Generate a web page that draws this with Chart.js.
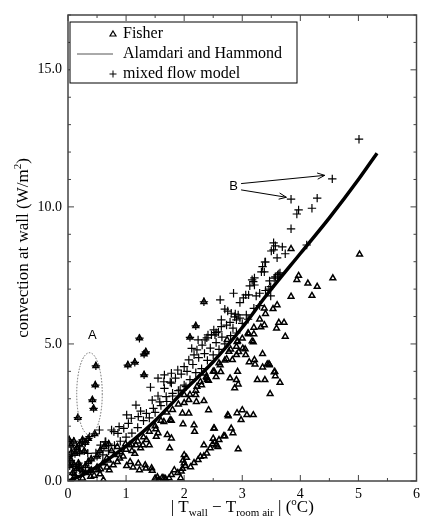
<!DOCTYPE html>
<html>
<head>
<meta charset="utf-8">
<script src="https://cdn.jsdelivr.net/npm/chart.js@4.4.0/dist/chart.umd.min.js"></script>
<style>body{margin:0;background:#fff}</style>
</head>
<body>
<canvas id="c" width="425" height="517"></canvas>
<script>
// axis ranges / ticks
const xMax = 6, yMax = 17;
const xTickLabels = [0, 1, 2, 3, 4, 5, 6];
const yTickLabels = [0, 5, 10, 15];

// Alamdari and Hammond correlation
const lineX = [0, 0.25, 0.5, 0.75, 1, 1.5, 2, 2.5, 3, 3.4, 4, 4.5, 5, 5.32];
const lineY = [0, 0.22, 0.52, 0.88, 1.28, 2.2, 3.3, 4.35, 5.6, 6.73, 8.3, 9.6, 11.0, 11.96];

// points where Fisher and mixed flow model coincide (drawn as both markers)
const shared = [
  [2.34,6.54],[2.20,5.66],[2.10,5.24],[1.23,5.21],[1.31,4.63],[1.34,4.71],[1.03,4.23],[1.15,4.33],
  [1.31,3.87],[0.48,4.20],[0.47,3.50],[0.42,2.96],[0.44,2.65],[0.17,2.31],[0.46,1.72],[0.02,1.50],
  [0.05,1.3],[0.1,1.45],[0.15,1.2],[0.2,1.35],[0.25,1.5],[0.3,1.4],[0.35,1.55],[0.12,1.0],[0.2,1.05],
  [0.28,1.1],[0.03,0.55],[0.05,0.75],[0.1,0.6],[0.15,0.45],[0.2,0.5],[0.25,0.35],[0.08,0.3],[0.12,0.2],
  [0.18,0.65],[0.3,0.55],[0.35,0.7],[0.4,0.8],[0.5,0.9],[0.55,1.1],[0.62,1.25],[0.7,1.35],[0.02,0.9],[0.06,1.05]
];

// Fisher measurements
const fisher = [
  [3.84,8.47],[5.02,8.27],[3.97,7.49],[3.94,7.34],[4.13,7.21],[4.29,7.09],[4.56,7.40],[3.84,6.73],[4.20,6.76],
  [3.60,6.42],[3.53,6.28],[3.63,5.78],[3.72,5.78],[3.59,5.57],[3.74,5.27],[3.46,4.27],[3.56,3.99],[3.57,3.83],
  [3.65,3.59],[3.48,3.18],[3.38,6.30],[3.32,5.61],[3.38,5.69],[3.11,5.36],[3.20,5.36],[3.17,5.1],[2.92,5.10],
  [2.91,5.08],[3.19,5.07],[2.77,4.72],[3.01,4.84],[2.94,4.71],[3.06,4.60],[2.73,4.45],[2.83,4.42],[2.90,4.60],
  [3.12,4.34],[3.35,4.64],[3.22,4.26],[3.43,4.26],[2.62,4.23],[2.52,3.99],[2.63,3.98],[2.55,3.80],[2.36,3.93],
  [2.39,3.76],[2.92,3.99],[2.79,3.75],[2.90,3.69],[2.93,3.53],[2.87,3.39],[3.26,3.69],[3.39,3.69],[3.35,4.15],
  [3.47,4.23],[3.55,3.97],[2.34,2.92],[2.42,2.59],[2.76,2.37],[2.91,2.48],[3.0,2.59],[3.08,2.41],[3.19,2.41],
  [2.98,2.23],[2.08,2.47],[1.98,2.08],[1.78,2.2],[2.52,1.92],[2.18,1.80],[2.81,1.92],[2.84,1.75],[2.70,1.64],
  [2.93,1.16],[2.34,1.31],[2.53,1.43],[2.49,1.35],[2.55,1.30],[2.45,1.20],[2.6,1.5],[2.5,1.55],[2.58,1.25],
  [2.39,1.01],[2.34,0.91],[2.28,0.89],[2.24,0.77],[2.17,0.66],[2.11,0.51],[2.0,0.65],[1.98,0.75],[2.02,0.55],
  [1.97,0.45],[2.04,0.85],[1.95,0.35],[2.0,0.95],[1.83,0.40],[1.89,0.3],[1.94,0.11],[1.78,0.22],[1.74,0.11],
  [1.68,0.08],[1.62,0.12],[1.56,0.05],[1.5,0.1],[1.75,1.2],[1.78,1.56],[2.20,3.14],[2.08,2.96],[2.28,3.62],
  [2.38,3.80],[2.42,3.66],[2.75,2.41],[2.68,1.64],[2.51,1.92],[3.21,4.42],[3.05,4.81],[2.74,5.15],
  [1.51,1.89],[1.65,2.16],[1.76,2.23],[1.71,1.68],[1.40,1.31],[1.29,1.31],[1.17,1.31],[1.06,1.31],[0.89,0.83],
  [0.78,0.58],[0.67,0.50],[0.56,0.43],[1.01,0.55],[1.12,0.50],[1.23,0.40],[1.34,0.46],[1.45,0.38],[1.54,0.14],
  [1.65,0.11],[0.39,0.16],[0.61,0.04],[0.67,0.83],[1.07,0.70],[1.21,0.64],[1.33,0.58],[1.44,0.47],[0.52,0.40],
  [0.71,0.4],[0.37,0.36],[1.52,1.62],[1.97,2.47],[2.17,2.04],[2.0,3.14],[2.21,2.89],[2.22,3.44],
  [0.5,0.5],[0.6,0.65],[0.7,0.75],[0.8,0.95],[0.9,1.05],[1.0,1.15],[1.1,1.1],[1.2,1.45],[1.3,1.6],[1.4,1.8],
  [1.5,2.0],[1.6,2.2],[1.7,2.5],[1.8,2.6],[1.9,2.8],[2.0,2.85],[2.1,3.15],[2.2,3.3],[2.3,3.5],[2.4,3.7],
  [2.5,4.0],[2.6,4.3],[2.7,4.4],[2.8,4.8],[2.9,4.9],[3.0,5.2],[3.1,5.4],[3.2,5.6],[3.3,5.9],[3.4,6.1],
  [0.3,0.3],[0.4,0.4],[0.25,0.1],[0.15,0.05],[0.45,0.2],[0.55,0.25],[0.85,0.7],[0.95,0.9],[1.15,1.0],
  [1.35,1.5],[1.55,1.75],[1.25,1.2],[0.99,1.35],[1.10,1.33],[0.85,1.25],[0.75,1.1]
];

// mixed flow model predictions
const mixed = [
  [5.01,12.47],[4.55,11.02],[3.84,10.28],[4.29,10.32],[4.20,9.95],[3.97,9.89],[3.94,9.74],[3.84,9.2],
  [3.57,8.58],[3.54,8.43],[3.69,8.54],[3.60,8.14],[3.74,8.29],[3.50,8.39],[3.63,7.55],[3.57,7.45],[3.47,7.3],
  [3.46,7.0],[3.49,6.75],[4.11,8.61],[3.35,7.82],[3.39,7.99],[3.33,7.63],[3.61,7.52],[3.65,7.59],[3.55,7.40],
  [3.49,7.09],[3.19,7.27],[3.21,7.15],[3.13,7.12],[3.30,6.85],[3.24,6.75],[2.85,6.85],[2.96,6.51],[3.02,6.68],
  [3.06,6.79],[3.11,6.79],[2.62,6.61],[2.70,6.27],[2.75,6.20],[2.81,6.12],[2.88,6.09],[2.64,5.88],[2.64,5.63],
  [2.79,5.79],[2.90,5.88],[2.96,5.94],[3.07,6.06],[2.51,5.51],[2.55,5.41],[2.47,5.33],[3.54,8.69],[3.40,7.99],
  [3.17,7.34],[3.21,7.41],[3.38,7.63],[2.87,5.99],[2.93,6.06],[2.73,5.69],[2.84,5.58],[2.59,5.44],[2.53,5.33],
  [2.39,5.22],[1.42,3.42],[1.65,3.62],[1.76,3.61],[1.55,3.75],[1.66,3.87],[1.78,3.93],[1.89,4.05],[2.0,4.17],
  [2.08,4.42],[2.17,4.60],[2.22,4.78],[2.31,4.96],[2.36,5.15],[2.41,5.33],[2.24,5.15],[2.13,4.84],
  [1.17,2.77],[1.01,2.41],[1.09,2.29],[0.75,1.86],[0.86,1.74],[0.64,1.43],[0.56,1.31],[0.79,1.80],[0.88,1.98],
  [0.96,1.92],[1.04,2.10],[1.21,2.35],[1.35,2.47],[1.47,2.65],[1.58,2.89],[1.69,3.08],[1.80,3.20],[1.93,3.32],
  [2.03,3.44],[1.78,3.57],[1.66,3.38],[0.54,1.86],[0.37,1.62],[0.29,1.43],[0.20,1.25],[0.34,1.01],[0.48,1.02],
  [0.65,1.43],[1.3,2.2],[1.5,2.5],[1.7,2.9],[1.9,3.3],[2.1,3.7],[2.3,4.1],[2.5,4.6],[2.7,5.0],[2.9,5.4],
  [3.1,5.9],[3.3,6.4],[1.2,1.95],[1.4,2.3],[1.6,2.75],[1.8,3.1],[2.0,3.5],[2.2,3.95],[2.4,4.4],[2.6,4.8],
  [2.8,5.3],[3.0,5.75],[1.0,1.6],[0.9,1.45],[0.8,1.3],[0.7,1.1],[0.6,0.95],[1.1,1.75],[1.25,2.55],[1.45,2.95],
  [1.55,3.1],[1.85,3.75],[1.95,3.9],[2.05,4.0],[2.15,4.25],[2.25,4.5],[2.45,4.85],[2.55,5.05],[2.65,5.25],
  [2.35,4.65],[3.2,6.3],[3.4,6.95]
];

// annotations
const ellipseA = { x: 0.37, y: 3.18, rx: 0.22, ry: 1.5 };
const labelA = { x: 0.42, y: 5.3 };
const labelB = { x: 2.85, y: 10.75 };
const arrowsB = [[2.98, 10.85, 4.42, 11.15], [2.98, 10.62, 3.76, 10.35]];

const toPts = arr => arr.map(p => ({ x: p[0], y: p[1] }));
const serif = '"Liberation Serif", "DejaVu Serif", serif';

function drawRich(ctx, parts, x, y) {
  // parts: [text, size, dy]; centred on x
  let total = 0;
  parts.forEach(p => { ctx.font = `${p[1]}px ${serif}`; total += ctx.measureText(p[0]).width; });
  let cx = x - total / 2;
  ctx.textAlign = 'left';
  ctx.textBaseline = 'alphabetic';
  parts.forEach(p => {
    ctx.font = `${p[1]}px ${serif}`;
    ctx.fillText(p[0], cx, y + p[2]);
    cx += ctx.measureText(p[0]).width;
  });
}

const decor = {
  id: 'decor',
  afterDraw(chart) {
    const ctx = chart.ctx;
    const { left, right, top, bottom } = chart.chartArea;
    const sx = chart.scales.x, sy = chart.scales.y;
    ctx.save();

    // frame
    ctx.strokeStyle = '#444';
    ctx.lineWidth = 1.5;
    ctx.strokeRect(left, top, right - left, bottom - top);

    // inward ticks on all sides
    ctx.lineWidth = 1;
    ctx.beginPath();
    for (let v = 0; v <= xMax + 1e-9; v += 0.5) {
      const px = sx.getPixelForValue(v);
      const len = Number.isInteger(v) ? 6 : 3;
      ctx.moveTo(px, bottom); ctx.lineTo(px, bottom - len);
      ctx.moveTo(px, top); ctx.lineTo(px, top + len);
    }
    for (let v = 0; v <= yMax; v += 1) {
      const py = sy.getPixelForValue(v);
      const len = v % 5 === 0 ? 6 : 3;
      ctx.moveTo(left, py); ctx.lineTo(left + len, py);
      ctx.moveTo(right, py); ctx.lineTo(right - len, py);
    }
    ctx.stroke();

    // ellipse A
    ctx.strokeStyle = '#666';
    ctx.setLineDash([1.5, 1.5]);
    ctx.beginPath();
    const ecx = sx.getPixelForValue(ellipseA.x), ecy = sy.getPixelForValue(ellipseA.y);
    const erx = sx.getPixelForValue(ellipseA.x + ellipseA.rx) - ecx;
    const ery = ecy - sy.getPixelForValue(ellipseA.y + ellipseA.ry);
    ctx.ellipse(ecx, ecy, erx, ery, 0, 0, Math.PI * 2);
    ctx.stroke();
    ctx.setLineDash([]);

    // labels A, B
    ctx.fillStyle = '#000';
    ctx.font = '13px "Liberation Sans", Arial, sans-serif';
    ctx.textAlign = 'center';
    ctx.textBaseline = 'middle';
    ctx.fillText('A', sx.getPixelForValue(labelA.x), sy.getPixelForValue(labelA.y));
    ctx.fillText('B', sx.getPixelForValue(labelB.x), sy.getPixelForValue(labelB.y));

    // arrows from B
    ctx.strokeStyle = '#000';
    ctx.lineWidth = 1;
    arrowsB.forEach(a => {
      const x1 = sx.getPixelForValue(a[0]), y1 = sy.getPixelForValue(a[1]);
      const x2 = sx.getPixelForValue(a[2]), y2 = sy.getPixelForValue(a[3]);
      const ang = Math.atan2(y2 - y1, x2 - x1);
      ctx.beginPath();
      ctx.moveTo(x1, y1); ctx.lineTo(x2, y2);
      ctx.moveTo(x2 - 8 * Math.cos(ang - 0.4), y2 - 8 * Math.sin(ang - 0.4));
      ctx.lineTo(x2, y2);
      ctx.lineTo(x2 - 8 * Math.cos(ang + 0.4), y2 - 8 * Math.sin(ang + 0.4));
      ctx.stroke();
    });

    // legend box
    const bx = left + 2, by = top + 7, bw = 227, bh = 61;
    ctx.fillStyle = '#fff';
    ctx.fillRect(bx, by, bw, bh);
    ctx.strokeStyle = '#000';
    ctx.strokeRect(bx, by, bw, bh);
    const mx = bx + 43, tx = bx + 53;
    const rows = [by + 12, by + 32, by + 52];
    // triangle marker
    ctx.lineWidth = 1.2;
    ctx.beginPath();
    ctx.moveTo(mx, rows[0] - 3); ctx.lineTo(mx + 3, rows[0] + 2); ctx.lineTo(mx - 3, rows[0] + 2); ctx.closePath();
    ctx.stroke();
    // line sample
    ctx.strokeStyle = '#555';
    ctx.lineWidth = 1;
    ctx.beginPath();
    ctx.moveTo(bx + 7, rows[1]); ctx.lineTo(mx, rows[1]);
    ctx.stroke();
    // cross marker
    ctx.strokeStyle = '#000';
    ctx.beginPath();
    ctx.moveTo(mx - 3.5, rows[2]); ctx.lineTo(mx + 3.5, rows[2]);
    ctx.moveTo(mx, rows[2] - 3.5); ctx.lineTo(mx, rows[2] + 3.5);
    ctx.stroke();
    ctx.fillStyle = '#000';
    ctx.font = `16px ${serif}`;
    ctx.textAlign = 'left';
    ctx.textBaseline = 'middle';
    ctx.fillText('Fisher', tx, rows[0]);
    ctx.fillText('Alamdari and Hammond', tx, rows[1]);
    ctx.fillText('mixed flow model', tx, rows[2]);

    // axis titles
    ctx.fillStyle = '#000';
    drawRich(ctx, [['| T', 17, 0], ['wall', 11, 4], [' \u2212 T', 17, 0], ['room air', 11, 4],
      [' | (', 17, 0], ['o', 11, -7], ['C)', 17, 0]], (left + right) / 2, 512);
    ctx.save();
    ctx.translate(28, (top + bottom) / 2);
    ctx.rotate(-Math.PI / 2);
    drawRich(ctx, [['convection at wall (W/m', 17, 0], ['2', 11, -7], [')', 17, 0]], 0, 0);
    ctx.restore();

    ctx.restore();
  }
};

new Chart(document.getElementById('c'), {
  type: 'scatter',
  data: {
    datasets: [
      {
        label: 'Fisher',
        data: toPts(fisher.concat(shared)),
        pointStyle: 'triangle',
        pointRadius: 3.3,
        borderWidth: 1.5,
        borderColor: '#000',
        backgroundColor: 'rgba(0,0,0,0)',
        order: 3
      },
      {
        label: 'mixed flow model',
        data: toPts(mixed.concat(shared)),
        pointStyle: 'cross',
        pointRadius: 4.2,
        borderWidth: 1.2,
        borderColor: '#000',
        order: 2
      },
      {
        label: 'Alamdari and Hammond',
        data: lineX.map((x, i) => ({ x: x, y: lineY[i] })),
        showLine: true,
        borderColor: '#000',
        borderWidth: 3.5,
        pointRadius: 0,
        cubicInterpolationMode: 'monotone',
        order: 1
      }
    ]
  },
  options: {
    responsive: false,
    animation: false,
    devicePixelRatio: 1,
    layout: { padding: { top: 15, right: 1, left: 0, bottom: 0 } },
    plugins: { legend: { display: false }, tooltip: { enabled: false } },
    scales: {
      x: {
        type: 'linear', min: 0, max: xMax,
        grid: { display: false, drawTicks: false }, border: { display: false },
        afterFit: s => { s.height = 36; },
        afterBuildTicks: s => { s.ticks = xTickLabels.map(v => ({ value: v })); },
        ticks: { padding: 5, color: '#000', font: { family: serif, size: 14 }, callback: v => String(v) }
      },
      y: {
        type: 'linear', min: 0, max: yMax,
        grid: { display: false, drawTicks: false }, border: { display: false },
        afterFit: s => { s.width = 68; },
        afterBuildTicks: s => { s.ticks = yTickLabels.map(v => ({ value: v })); },
        ticks: { padding: 6, color: '#000', font: { family: serif, size: 14 }, callback: v => v.toFixed(1) }
      }
    }
  },
  plugins: [decor]
});
</script>
</body>
</html>
